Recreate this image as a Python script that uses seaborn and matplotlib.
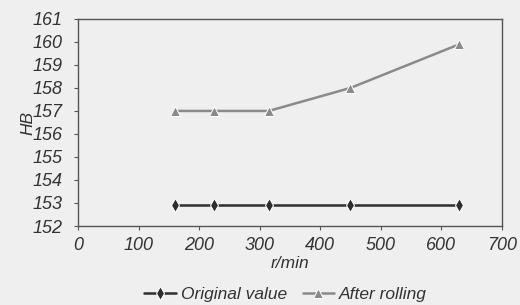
import numpy as np
import pandas as pd
import matplotlib
matplotlib.use('Agg')
import matplotlib.pyplot as plt
import seaborn as sns

# ====== DATA

speed = [160, 224, 315, 450, 630]
original_value = [152.9, 152.9, 152.9, 152.9, 152.9]
after_rolling = [157.0, 157.0, 157.0, 158.0, 159.9]

x_ticks = [0, 100, 200, 300, 400, 500, 600, 700]
y_ticks = [152, 153, 154, 155, 156, 157, 158, 159, 160, 161]

df = pd.DataFrame({
    'r/min': speed * 2,
    'HB': original_value + after_rolling,
    'series': ['Original value'] * len(speed) + ['After rolling'] * len(speed),
})

# ====== PLOT

sns.set_style('ticks')
plt.rcParams['font.family'] = ['Liberation Sans', 'DejaVu Sans']
plt.rcParams['font.style'] = 'italic'

bg = '#efefef'
fig = plt.figure(figsize=(5.2, 3.05), dpi=100, facecolor=bg)
ax = fig.add_axes([0.15, 0.259, 0.815, 0.679])
ax.set_facecolor(bg)

sns.lineplot(data=df, x='r/min', y='HB', hue='series', style='series',
             palette={'Original value': '#2e2e2e', 'After rolling': '#8a8a8a'},
             markers={'Original value': 'd', 'After rolling': '^'},
             dashes=False, markersize=7, linewidth=1.8, ax=ax)

ax.set_xlim(0, 700)
ax.set_ylim(152, 161)
ax.set_xticks(x_ticks)
ax.set_yticks(y_ticks)
ax.tick_params(axis='both', length=3, width=0.8, colors='#555555',
               labelcolor='#333333', labelsize=13)
ax.tick_params(axis='y', pad=8)
ax.tick_params(axis='x', pad=5)
for s in ax.spines.values():
    s.set_color('#555555')
    s.set_linewidth(1.0)

ax.set_xlabel('r/min', fontsize=12.5, color='#333333', labelpad=1)
ax.set_ylabel('HB', fontsize=12.5, color='#333333', labelpad=-2)

handles, labels = ax.get_legend_handles_labels()
ax.legend(handles, labels, loc='upper center', bbox_to_anchor=(0.49, -0.22),
          ncol=2, frameon=False, handlelength=1.8,
          handletextpad=0.3, columnspacing=0.9, labelcolor='#333333',
          prop={'style': 'italic', 'size': 12.5})

fig.savefig('out.png', dpi=100, facecolor=bg)
plt.close()
